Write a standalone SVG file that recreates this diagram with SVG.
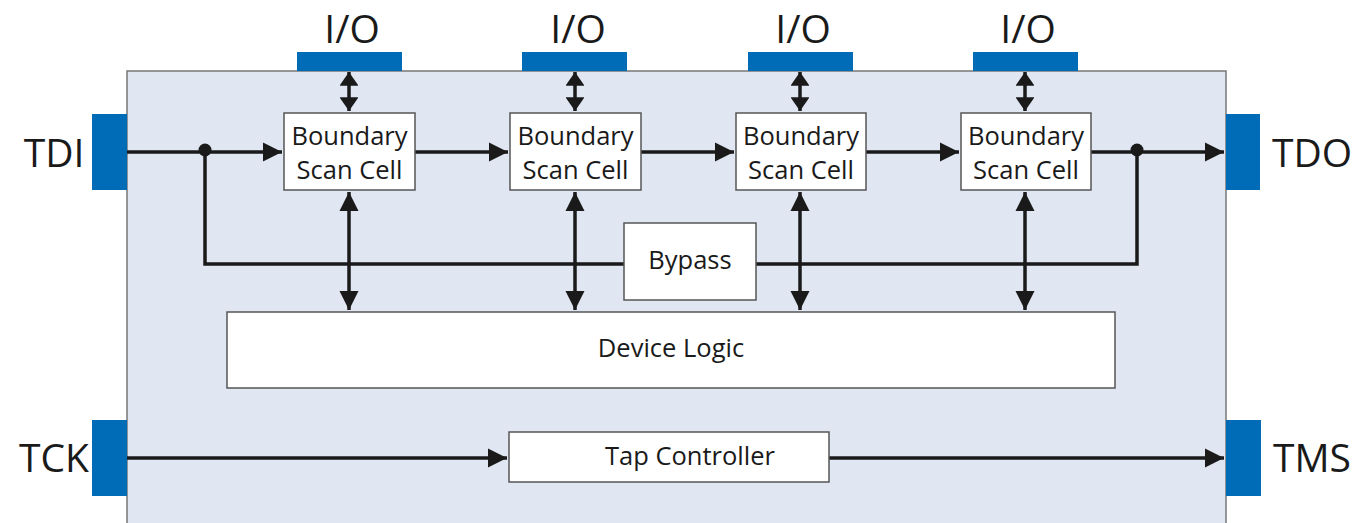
<svg xmlns="http://www.w3.org/2000/svg" width="1366" height="523" viewBox="0 0 1366 523">
<style>
.pin{fill:#006bb6}
.box{fill:#fff;stroke:#555;stroke-width:1.5}
.t{font-family:"Open Sans","Liberation Sans",sans-serif;fill:#1a1a1a;text-anchor:middle}
.big{font-size:39px}
.mid{font-size:25.5px}
.ln{stroke:#1a1a1a;stroke-width:3.5;fill:none}
</style>
<defs>
<marker id="ah" viewBox="0 0 10 10" refX="10" refY="5" markerWidth="5.5" markerHeight="5.5" orient="auto-start-reverse" markerUnits="strokeWidth">
<path d="M0,0 L10,5 L0,10 z" fill="#1a1a1a"/>
</marker>
<marker id="ahs" viewBox="0 0 10 10" refX="10" refY="5" markerWidth="3.9" markerHeight="5.4" preserveAspectRatio="none" orient="auto-start-reverse" markerUnits="strokeWidth">
<path d="M0,0 L10,5 L0,10 z" fill="#1a1a1a"/>
</marker>
</defs>
<rect width="1366" height="523" fill="#fff"/>
<rect id="chip" x="127" y="71" width="1099" height="460" fill="#e0e7f3" stroke="#777" stroke-width="1.5"/>

<g id="pins">
<rect class="pin" x="297" y="52" width="105" height="19"/>
<rect class="pin" x="522" y="52" width="105" height="19"/>
<rect class="pin" x="748" y="52" width="105" height="19"/>
<rect class="pin" x="973" y="52" width="105" height="19"/>
<rect class="pin" x="92" y="114" width="35" height="76"/>
<rect class="pin" x="1226" y="114" width="34" height="76"/>
<rect class="pin" x="92" y="420" width="35" height="76"/>
<rect class="pin" x="1226" y="420" width="35" height="76"/>
<text class="t big" x="352" y="43">I/O</text>
<text class="t big" x="578" y="43">I/O</text>
<text class="t big" x="803" y="43">I/O</text>
<text class="t big" x="1028" y="43">I/O</text>
<text class="t big" x="54" y="167">TDI</text>
<text class="t big" x="1312" y="167">TDO</text>
<text class="t big" x="54" y="472">TCK</text>
<text class="t big" x="1312" y="472">TMS</text>
</g>

<g id="connectors">
<path class="ln" d="M127,152 H282" marker-end="url(#ah)"/>
<path class="ln" d="M415,152 H508" marker-end="url(#ah)"/>
<path class="ln" d="M641,152 H734" marker-end="url(#ah)"/>
<path class="ln" d="M866,152 H959" marker-end="url(#ah)"/>
<path class="ln" d="M1091,152 H1224" marker-end="url(#ah)"/>
<path class="ln" d="M205,150 V264 H624"/>
<path class="ln" d="M756,264 H1137 V150"/>
<circle cx="205" cy="150" r="6.5" fill="#1a1a1a"/>
<circle cx="1137" cy="150" r="6.5" fill="#1a1a1a"/>
<path class="ln" d="M349,72 V111" marker-start="url(#ahs)" marker-end="url(#ahs)"/>
<path class="ln" d="M575,72 V111" marker-start="url(#ahs)" marker-end="url(#ahs)"/>
<path class="ln" d="M800,72 V111" marker-start="url(#ahs)" marker-end="url(#ahs)"/>
<path class="ln" d="M1025,72 V111" marker-start="url(#ahs)" marker-end="url(#ahs)"/>
<path class="ln" d="M349,192 V310" marker-start="url(#ah)" marker-end="url(#ah)"/>
<path class="ln" d="M575,192 V310" marker-start="url(#ah)" marker-end="url(#ah)"/>
<path class="ln" d="M800,192 V310" marker-start="url(#ah)" marker-end="url(#ah)"/>
<path class="ln" d="M1025,192 V310" marker-start="url(#ah)" marker-end="url(#ah)"/>
<path class="ln" d="M127,458 H507" marker-end="url(#ah)"/>
<path class="ln" d="M829,458 H1224" marker-end="url(#ah)"/>
</g>

<g id="bsc1"><rect class="box" x="284" y="113" width="131" height="77"/><text class="t mid" x="349.5" y="145">Boundary</text><text class="t mid" x="349.5" y="179">Scan Cell</text></g>
<g id="bsc2"><rect class="box" x="510" y="113" width="131" height="77"/><text class="t mid" x="575.5" y="145">Boundary</text><text class="t mid" x="575.5" y="179">Scan Cell</text></g>
<g id="bsc3"><rect class="box" x="736" y="113" width="130" height="77"/><text class="t mid" x="801" y="145">Boundary</text><text class="t mid" x="801" y="179">Scan Cell</text></g>
<g id="bsc4"><rect class="box" x="961" y="113" width="130" height="77"/><text class="t mid" x="1026" y="145">Boundary</text><text class="t mid" x="1026" y="179">Scan Cell</text></g>
<g id="bypass"><rect class="box" x="624" y="223" width="132" height="77"/><text class="t mid" x="690" y="269">Bypass</text></g>
<g id="device-logic"><rect class="box" x="227" y="312" width="888" height="76"/><text class="t mid" x="671" y="357">Device Logic</text></g>
<g id="tap-controller"><rect class="box" x="509" y="432" width="320" height="50"/><text class="t mid" x="690" y="465">Tap Controller</text></g>
</svg>
